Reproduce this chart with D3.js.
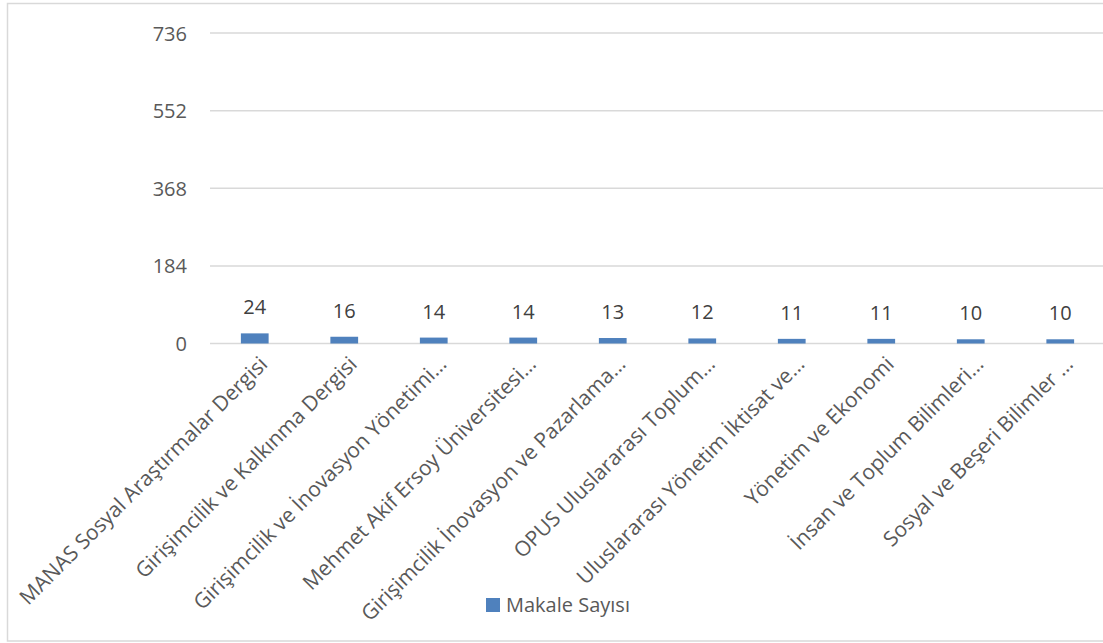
<!DOCTYPE html>
<html>
<head>
<meta charset="utf-8">
<script src="https://cdn.jsdelivr.net/npm/d3@7"></script>
<style>
  html, body { margin: 0; padding: 0; background: #fff; }
  svg { display: block; font-family: "Open Sans", "Noto Sans", sans-serif; }
</style>
</head>
<body>
<svg id="chart" width="1103" height="643"></svg>
<script>
const categories = [
  "MANAS Sosyal Araştırmalar Dergisi",
  "Girişimcilik ve Kalkınma Dergisi",
  "Girişimcilik ve İnovasyon Yönetimi…",
  "Mehmet Akif Ersoy Üniversitesi…",
  "Girişimcilik İnovasyon ve Pazarlama…",
  "OPUS Uluslararası Toplum…",
  "Uluslararası Yönetim İktisat ve…",
  "Yönetim ve Ekonomi",
  "İnsan ve Toplum Bilimleri…",
  "Sosyal ve Beşeri Bilimler …"
];
const values = [24, 16, 14, 14, 13, 12, 11, 11, 10, 10];
const yTicks = [0, 184, 368, 552, 736];
const seriesName = "Makale Sayısı";

const svg = d3.select("#chart");
const W = 1103, H = 643;

svg.append("rect").attr("x", 0).attr("y", 0).attr("width", W).attr("height", H).attr("fill", "#fff");
// chart frame (extends beyond right edge)
svg.append("rect")
  .attr("x", 7.5).attr("y", 3.5).attr("width", W + 10).attr("height", 637.5)
  .attr("fill", "none").attr("stroke", "#d9d9d9").attr("stroke-width", 1.5);

const plotLeft = 210, plotRight = 1105;
const x = d3.scaleBand().domain(categories).range([plotLeft, plotRight])
  .paddingInner(0.69).paddingOuter(0.345);
const y = d3.scaleLinear().domain([0, 736]).range([343.5, 33]);

// gridlines
svg.append("g").selectAll("line").data(yTicks).join("line")
  .attr("x1", plotLeft).attr("x2", W)
  .attr("y1", d => y(d)).attr("y2", d => y(d))
  .attr("stroke", "#d9d9d9").attr("stroke-width", 1.5);

// y axis labels
const yAxis = d3.axisLeft(y).tickValues(yTicks).tickSize(0).tickPadding(0);
const gy = svg.append("g").attr("transform", "translate(187,0)").call(yAxis);
gy.select(".domain").remove();
gy.selectAll("text").attr("font-size", 20).attr("fill", "#595959")
  .attr("font-family", '"Open Sans", sans-serif').attr("dy", "0.35em");

// bars
svg.append("g").selectAll("rect").data(values).join("rect")
  .attr("x", (d, i) => x(categories[i]))
  .attr("width", x.bandwidth())
  .attr("y", d => y(d))
  .attr("height", d => y(0) - y(d))
  .attr("fill", "#4f81bd");

// value labels
svg.append("g").selectAll("text").data(values).join("text")
  .attr("x", (d, i) => x(categories[i]) + x.bandwidth() / 2)
  .attr("y", d => y(d) - 19)
  .attr("text-anchor", "middle")
  .attr("font-size", 20).attr("fill", "#404040")
  .text(d => d);

// category labels (rotated -45)
const xAxis = d3.axisBottom(x).tickSize(0).tickPadding(0);
const gx = svg.append("g").attr("transform", `translate(0,${y(0)})`).call(xAxis);
gx.select(".domain").remove();
gx.selectAll(".tick text")
  .attr("font-size", 21).attr("fill", "#595959")
  .attr("font-family", '"Open Sans", sans-serif')
  .attr("text-anchor", "end")
  .attr("dy", null).attr("y", null)
  .attr("transform", "translate(14,22) rotate(-45)");

// legend
const lg = svg.append("g");
lg.append("rect").attr("x", 486).attr("y", 598).attr("width", 14).attr("height", 14).attr("fill", "#4f81bd");
lg.append("text").attr("x", 506).attr("y", 612).attr("font-size", 20).attr("fill", "#595959").text(seriesName);
</script>
</body>
</html>
